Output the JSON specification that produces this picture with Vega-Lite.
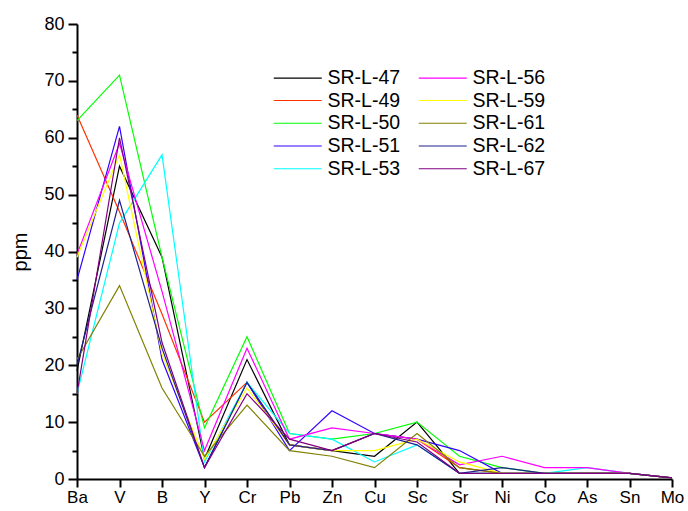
{
  "$schema": "https://vega.github.io/schema/vega-lite/v6.json",
  "width": 595,
  "height": 455,
  "autosize": {"type": "none"},
  "padding": {"left": 77, "top": 24, "right": 16, "bottom": 32},
  "background": "white",
  "config": {"view": {"stroke": null}, "font": "Liberation Sans"},
  "datasets": {
    "ppm": [
      {"sample": "SR-L-47", "element": "Ba", "ppm": 19}, {"sample": "SR-L-47", "element": "V", "ppm": 55}, {"sample": "SR-L-47", "element": "B", "ppm": 39}, {"sample": "SR-L-47", "element": "Y", "ppm": 3.5}, {"sample": "SR-L-47", "element": "Cr", "ppm": 21}, {"sample": "SR-L-47", "element": "Pb", "ppm": 6}, {"sample": "SR-L-47", "element": "Zn", "ppm": 5}, {"sample": "SR-L-47", "element": "Cu", "ppm": 4}, {"sample": "SR-L-47", "element": "Sc", "ppm": 10}, {"sample": "SR-L-47", "element": "Sr", "ppm": 1}, {"sample": "SR-L-47", "element": "Ni", "ppm": 1}, {"sample": "SR-L-47", "element": "Co", "ppm": 1}, {"sample": "SR-L-47", "element": "As", "ppm": 1}, {"sample": "SR-L-47", "element": "Sn", "ppm": 1}, {"sample": "SR-L-47", "element": "Mo", "ppm": 0.2},
      {"sample": "SR-L-49", "element": "Ba", "ppm": 64}, {"sample": "SR-L-49", "element": "V", "ppm": 47}, {"sample": "SR-L-49", "element": "B", "ppm": 29}, {"sample": "SR-L-49", "element": "Y", "ppm": 10}, {"sample": "SR-L-49", "element": "Cr", "ppm": 17}, {"sample": "SR-L-49", "element": "Pb", "ppm": 6}, {"sample": "SR-L-49", "element": "Zn", "ppm": 5}, {"sample": "SR-L-49", "element": "Cu", "ppm": 8}, {"sample": "SR-L-49", "element": "Sc", "ppm": 7}, {"sample": "SR-L-49", "element": "Sr", "ppm": 2}, {"sample": "SR-L-49", "element": "Ni", "ppm": 1}, {"sample": "SR-L-49", "element": "Co", "ppm": 1}, {"sample": "SR-L-49", "element": "As", "ppm": 1}, {"sample": "SR-L-49", "element": "Sn", "ppm": 1}, {"sample": "SR-L-49", "element": "Mo", "ppm": 0.2},
      {"sample": "SR-L-50", "element": "Ba", "ppm": 63}, {"sample": "SR-L-50", "element": "V", "ppm": 71}, {"sample": "SR-L-50", "element": "B", "ppm": 39}, {"sample": "SR-L-50", "element": "Y", "ppm": 9}, {"sample": "SR-L-50", "element": "Cr", "ppm": 25}, {"sample": "SR-L-50", "element": "Pb", "ppm": 8}, {"sample": "SR-L-50", "element": "Zn", "ppm": 7}, {"sample": "SR-L-50", "element": "Cu", "ppm": 8}, {"sample": "SR-L-50", "element": "Sc", "ppm": 10}, {"sample": "SR-L-50", "element": "Sr", "ppm": 4}, {"sample": "SR-L-50", "element": "Ni", "ppm": 2}, {"sample": "SR-L-50", "element": "Co", "ppm": 1}, {"sample": "SR-L-50", "element": "As", "ppm": 1}, {"sample": "SR-L-50", "element": "Sn", "ppm": 1}, {"sample": "SR-L-50", "element": "Mo", "ppm": 0.2},
      {"sample": "SR-L-51", "element": "Ba", "ppm": 35}, {"sample": "SR-L-51", "element": "V", "ppm": 62}, {"sample": "SR-L-51", "element": "B", "ppm": 21}, {"sample": "SR-L-51", "element": "Y", "ppm": 2}, {"sample": "SR-L-51", "element": "Cr", "ppm": 17}, {"sample": "SR-L-51", "element": "Pb", "ppm": 5}, {"sample": "SR-L-51", "element": "Zn", "ppm": 12}, {"sample": "SR-L-51", "element": "Cu", "ppm": 8}, {"sample": "SR-L-51", "element": "Sc", "ppm": 7}, {"sample": "SR-L-51", "element": "Sr", "ppm": 5}, {"sample": "SR-L-51", "element": "Ni", "ppm": 1}, {"sample": "SR-L-51", "element": "Co", "ppm": 1}, {"sample": "SR-L-51", "element": "As", "ppm": 1}, {"sample": "SR-L-51", "element": "Sn", "ppm": 1}, {"sample": "SR-L-51", "element": "Mo", "ppm": 0.2},
      {"sample": "SR-L-53", "element": "Ba", "ppm": 15}, {"sample": "SR-L-53", "element": "V", "ppm": 45}, {"sample": "SR-L-53", "element": "B", "ppm": 57}, {"sample": "SR-L-53", "element": "Y", "ppm": 3}, {"sample": "SR-L-53", "element": "Cr", "ppm": 17}, {"sample": "SR-L-53", "element": "Pb", "ppm": 8}, {"sample": "SR-L-53", "element": "Zn", "ppm": 7}, {"sample": "SR-L-53", "element": "Cu", "ppm": 3}, {"sample": "SR-L-53", "element": "Sc", "ppm": 6}, {"sample": "SR-L-53", "element": "Sr", "ppm": 1}, {"sample": "SR-L-53", "element": "Ni", "ppm": 1}, {"sample": "SR-L-53", "element": "Co", "ppm": 1}, {"sample": "SR-L-53", "element": "As", "ppm": 2}, {"sample": "SR-L-53", "element": "Sn", "ppm": 1}, {"sample": "SR-L-53", "element": "Mo", "ppm": 0.2},
      {"sample": "SR-L-56", "element": "Ba", "ppm": 39.5}, {"sample": "SR-L-56", "element": "V", "ppm": 59}, {"sample": "SR-L-56", "element": "B", "ppm": 33}, {"sample": "SR-L-56", "element": "Y", "ppm": 5}, {"sample": "SR-L-56", "element": "Cr", "ppm": 23}, {"sample": "SR-L-56", "element": "Pb", "ppm": 7}, {"sample": "SR-L-56", "element": "Zn", "ppm": 9}, {"sample": "SR-L-56", "element": "Cu", "ppm": 8}, {"sample": "SR-L-56", "element": "Sc", "ppm": 7}, {"sample": "SR-L-56", "element": "Sr", "ppm": 2.5}, {"sample": "SR-L-56", "element": "Ni", "ppm": 4}, {"sample": "SR-L-56", "element": "Co", "ppm": 2}, {"sample": "SR-L-56", "element": "As", "ppm": 2}, {"sample": "SR-L-56", "element": "Sn", "ppm": 1}, {"sample": "SR-L-56", "element": "Mo", "ppm": 0.2},
      {"sample": "SR-L-59", "element": "Ba", "ppm": 39}, {"sample": "SR-L-59", "element": "V", "ppm": 57}, {"sample": "SR-L-59", "element": "B", "ppm": 22}, {"sample": "SR-L-59", "element": "Y", "ppm": 3.5}, {"sample": "SR-L-59", "element": "Cr", "ppm": 16}, {"sample": "SR-L-59", "element": "Pb", "ppm": 6}, {"sample": "SR-L-59", "element": "Zn", "ppm": 5}, {"sample": "SR-L-59", "element": "Cu", "ppm": 5}, {"sample": "SR-L-59", "element": "Sc", "ppm": 7}, {"sample": "SR-L-59", "element": "Sr", "ppm": 3}, {"sample": "SR-L-59", "element": "Ni", "ppm": 1}, {"sample": "SR-L-59", "element": "Co", "ppm": 1}, {"sample": "SR-L-59", "element": "As", "ppm": 1}, {"sample": "SR-L-59", "element": "Sn", "ppm": 1}, {"sample": "SR-L-59", "element": "Mo", "ppm": 0.2},
      {"sample": "SR-L-61", "element": "Ba", "ppm": 21}, {"sample": "SR-L-61", "element": "V", "ppm": 34}, {"sample": "SR-L-61", "element": "B", "ppm": 16}, {"sample": "SR-L-61", "element": "Y", "ppm": 4}, {"sample": "SR-L-61", "element": "Cr", "ppm": 13}, {"sample": "SR-L-61", "element": "Pb", "ppm": 5}, {"sample": "SR-L-61", "element": "Zn", "ppm": 4}, {"sample": "SR-L-61", "element": "Cu", "ppm": 2}, {"sample": "SR-L-61", "element": "Sc", "ppm": 8}, {"sample": "SR-L-61", "element": "Sr", "ppm": 2}, {"sample": "SR-L-61", "element": "Ni", "ppm": 1}, {"sample": "SR-L-61", "element": "Co", "ppm": 1}, {"sample": "SR-L-61", "element": "As", "ppm": 1}, {"sample": "SR-L-61", "element": "Sn", "ppm": 1}, {"sample": "SR-L-61", "element": "Mo", "ppm": 0.2},
      {"sample": "SR-L-62", "element": "Ba", "ppm": 20}, {"sample": "SR-L-62", "element": "V", "ppm": 49}, {"sample": "SR-L-62", "element": "B", "ppm": 23}, {"sample": "SR-L-62", "element": "Y", "ppm": 2}, {"sample": "SR-L-62", "element": "Cr", "ppm": 17}, {"sample": "SR-L-62", "element": "Pb", "ppm": 6}, {"sample": "SR-L-62", "element": "Zn", "ppm": 5}, {"sample": "SR-L-62", "element": "Cu", "ppm": 8}, {"sample": "SR-L-62", "element": "Sc", "ppm": 6}, {"sample": "SR-L-62", "element": "Sr", "ppm": 1}, {"sample": "SR-L-62", "element": "Ni", "ppm": 2}, {"sample": "SR-L-62", "element": "Co", "ppm": 1}, {"sample": "SR-L-62", "element": "As", "ppm": 1}, {"sample": "SR-L-62", "element": "Sn", "ppm": 1}, {"sample": "SR-L-62", "element": "Mo", "ppm": 0.2},
      {"sample": "SR-L-67", "element": "Ba", "ppm": 15}, {"sample": "SR-L-67", "element": "V", "ppm": 60}, {"sample": "SR-L-67", "element": "B", "ppm": 24}, {"sample": "SR-L-67", "element": "Y", "ppm": 2}, {"sample": "SR-L-67", "element": "Cr", "ppm": 15}, {"sample": "SR-L-67", "element": "Pb", "ppm": 7}, {"sample": "SR-L-67", "element": "Zn", "ppm": 5}, {"sample": "SR-L-67", "element": "Cu", "ppm": 8}, {"sample": "SR-L-67", "element": "Sc", "ppm": 6.5}, {"sample": "SR-L-67", "element": "Sr", "ppm": 1}, {"sample": "SR-L-67", "element": "Ni", "ppm": 1}, {"sample": "SR-L-67", "element": "Co", "ppm": 1}, {"sample": "SR-L-67", "element": "As", "ppm": 1}, {"sample": "SR-L-67", "element": "Sn", "ppm": 1}, {"sample": "SR-L-67", "element": "Mo", "ppm": 0.2}
    ]
  },
  "data": {"name": "ppm"},
  "mark": {"type": "line", "strokeWidth": 1.2},
  "encoding": {
    "x": {
      "field": "element",
      "type": "nominal",
      "sort": ["Ba", "V", "B", "Y", "Cr", "Pb", "Zn", "Cu", "Sc", "Sr", "Ni", "Co", "As", "Sn", "Mo"],
      "scale": {"type": "point", "padding": 0},
      "axis": {
        "title": null,
        "labelAngle": 0,
        "labelFontSize": 17,
        "labelColor": "black",
        "labelPadding": 2,
        "tickSize": 8,
        "tickWidth": 2,
        "tickColor": "black",
        "domainWidth": 2,
        "domainColor": "black",
        "grid": false
      }
    },
    "y": {
      "field": "ppm",
      "type": "quantitative",
      "scale": {"domain": [0, 80], "nice": false},
      "axis": {
        "title": "ppm",
        "titleFontSize": 20,
        "titleFontWeight": "normal",
        "titleColor": "black",
        "titlePadding": 13,
        "values": [0, 5, 10, 15, 20, 25, 30, 35, 40, 45, 50, 55, 60, 65, 70, 75, 80],
        "labelExpr": "datum.value % 10 === 0 ? datum.label : ''",
        "tickSize": {"condition": {"test": "datum.value % 10 === 0", "value": 9}, "value": 5},
        "labelFontSize": 18,
        "labelColor": "black",
        "labelPadding": 4,
        "tickWidth": 2,
        "tickColor": "black",
        "domainWidth": 2,
        "domainColor": "black",
        "grid": false
      }
    },
    "color": {
      "field": "sample",
      "type": "nominal",
      "scale": {
        "domain": ["SR-L-47", "SR-L-49", "SR-L-50", "SR-L-51", "SR-L-53", "SR-L-56", "SR-L-59", "SR-L-61", "SR-L-62", "SR-L-67"],
        "range": ["#000000", "#FF3300", "#00FF00", "#3300FF", "#00FFFF", "#FF00FF", "#FFFF00", "#808000", "#202090", "#800080"]
      },
      "legend": {
        "orient": "none",
        "legendX": 211,
        "legendY": 44,
        "columns": 2,
        "title": null,
        "symbolType": "M-3,0H3",
        "symbolSize": 256,
        "symbolStrokeWidth": 1.2,
        "labelFontSize": 19.5,
        "labelColor": "black",
        "labelOffset": 20,
        "columnPadding": 15,
        "rowPadding": 1.75
      }
    },
    "order": {"value": null}
  }
}
